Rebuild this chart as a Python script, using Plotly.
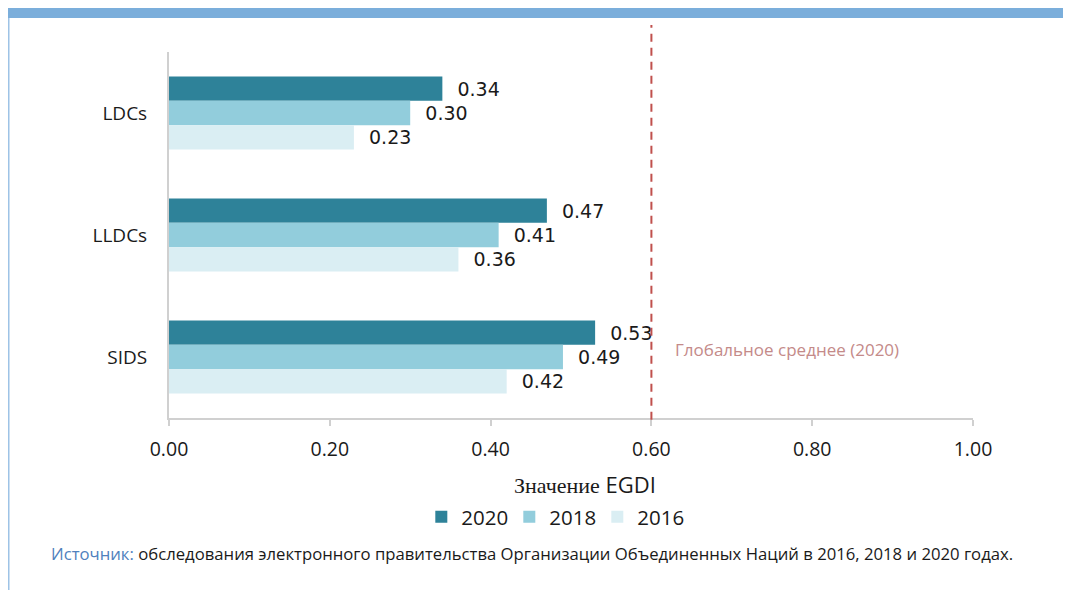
import plotly.graph_objects as go

categories = ["LDCs", "LLDCs", "SIDS"]
years = ["2020", "2018", "2016"]
values_2020 = [0.34, 0.47, 0.53]
values_2018 = [0.30, 0.41, 0.49]
values_2016 = [0.23, 0.36, 0.42]
global_avg_2020 = 0.60
tick_vals = [0.0, 0.2, 0.4, 0.6, 0.8, 1.0]
tick_text = ["0.00", "0.20", "0.40", "0.60", "0.80", "1.00"]

colors = {"2020": "#2E8299", "2018": "#92CDDC", "2016": "#DAEEF3"}
series = {"2020": values_2020, "2018": values_2018, "2016": values_2016}

fig = go.Figure()
for y in years:
    vals = series[y]
    fig.add_trace(go.Bar(
        y=categories, x=vals, name=y, orientation="h",
        marker=dict(color=colors[y], line=dict(width=0)),
        text=[f"  {v:.2f}" for v in vals], textposition="outside",
        textfont=dict(size=19, color="#1a1a1a", family="DejaVu Sans"),
        cliponaxis=False,
    ))

# Global average dashed line
fig.add_shape(type="line", xref="x", yref="paper", x0=global_avg_2020, x1=global_avg_2020,
              y0=-0.005, y1=1.074, line=dict(color="#C0504D", width=2, dash="8px,6px"))
fig.add_annotation(x=global_avg_2020, y=0.186, xref="x", yref="paper", xanchor="left",
                   yanchor="middle", xshift=22, text="Глобальное среднее (2020)", showarrow=False,
                   font=dict(size=17, color="#C48A89", family="Open Sans"))

# Axis title
fig.add_annotation(x=0.5, y=-0.180, xref="paper", yref="paper", xanchor="center", yanchor="middle",
                   xshift=14, showarrow=False,
                   text="<span style='font-family:\"Liberation Serif\", serif'>Значение</span> EGDI",
                   font=dict(size=22, color="#1a1a1a", family="Open Sans"))

# Frame decorations
fig.add_shape(type="rect", xref="paper", yref="paper", x0=-0.2003, x1=1.125, y0=1.093, y1=1.120,
              fillcolor="#7BAEDB", line=dict(width=0))
fig.add_shape(type="line", xref="paper", yref="paper", x0=-0.1993, x1=-0.1993, y0=1.093, y1=-0.48,
              line=dict(color="#9DC3E6", width=1.5))

# Source
fig.add_annotation(x=-0.149, y=-0.370, xref="paper", yref="paper", xanchor="left", yanchor="middle",
                   showarrow=False,
                   text="<span style='color:#4F81BD'>Источник:</span> обследования электронного правительства Организации Объединенных Наций в 2016, 2018 и 2020 годах.",
                   font=dict(size=16.7, color="#1a1a1a", family="Open Sans"))

fig.update_layout(
    width=1063, height=582,
    margin=dict(l=161, r=98, t=44, b=172),
    paper_bgcolor="white", plot_bgcolor="white",
    barmode="group", bargap=0.4, bargroupgap=0.0,
    font=dict(family="Open Sans", size=18, color="#1a1a1a"),
    showlegend=True,
    legend=dict(orientation="h", x=0.478, xanchor="center", y=-0.27, yanchor="middle",
                font=dict(size=20.5), traceorder="normal", itemwidth=30,
                entrywidth=43, entrywidthmode="pixels"),
    xaxis=dict(range=[0, 1], tickvals=tick_vals, ticktext=tick_text, showgrid=False,
               zeroline=False, showline=True, linecolor="#D0D0D0", linewidth=2,
               ticks="outside", ticklen=6, tickcolor="#D0D0D0", tickwidth=2,
               tickfont=dict(size=19.5), ticklabelstandoff=7),
    yaxis=dict(autorange="reversed", showgrid=False, showline=True, linecolor="#D0D0D0",
               linewidth=2, ticks="", tickfont=dict(size=19), ticklabelstandoff=16),
)

fig.write_html("out.html")
